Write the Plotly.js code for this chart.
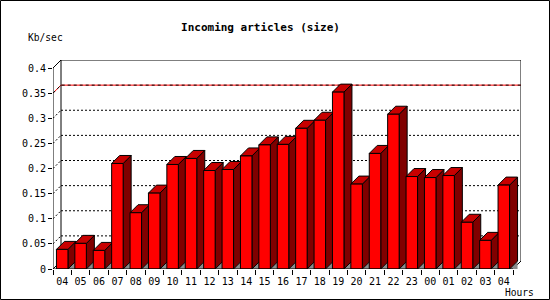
<!DOCTYPE html>
<html><head><meta charset="utf-8">
<script src="https://cdn.plot.ly/plotly-3.0.1.min.js"></script>
<style>html,body{margin:0;padding:0;background:#fff}#chart{width:550px;height:300px}</style>
</head><body><div id="chart"></div>
<script>
// ---- data ----
const hours = ['04','05','06','07','08','09','10','11','12','13','14','15','16','17','18','19','20','21','22','23','00','01','02','03','04'];
const kbPerSec = [0.039,0.051,0.037,0.210,0.112,0.151,0.208,0.220,0.196,0.198,0.225,0.247,0.248,0.280,0.296,0.352,0.169,0.230,0.308,0.184,0.182,0.186,0.093,0.057,0.167];
const yTicks = [0,0.05,0.1,0.15,0.2,0.25,0.3,0.35,0.4];
const yTickText = ['0','0.05','0.1','0.15','0.2','0.25','0.3','0.35','0.4'];
const markLine = 0.35;
const chartTitle = 'Incoming articles (size)';
const yUnit = 'Kb/sec';
const xUnit = 'Hours';

// ---- geometry ----
const W = 550, H = 300, M = {l:53, r:29, t:60, b:31};
const PW = W - M.l - M.r, PH = H - M.t - M.b;
const depth = 8;
const n = hours.length;
const xs = hours.map((_, i) => i);
const xSpan = n * PW / (PW - depth), dx = xSpan - n;
const yMax = yTicks[yTicks.length - 1];
const ySpan = yMax * PH / (PH - depth), dy = ySpan - yMax;
const xr = [-0.5, -0.5 + xSpan], yr = [0, ySpan];
const xL = -0.5, xR = n - 0.5;
const bw = 0.625;
const font = 'DejaVu Sans Mono';

// faces
const topF = {x:[], y:[]}, sideF = {x:[], y:[]}, shadowF = {x:[], y:[]};
xs.forEach((c, i) => {
  const v = kbPerSec[i], x0 = c - bw/2, x1 = c + bw/2;
  topF.x.push(x0, x0+dx, x1+dx, x1, x0, null);  topF.y.push(v, v+dy, v+dy, v, v, null);
  sideF.x.push(x1, x1+dx, x1+dx, x1, x1, null); sideF.y.push(v, v+dy, dy, 0, v, null);
  shadowF.x.push(x1, x1+dx, x1+dx, x1, null);   shadowF.y.push(0, dy, 0, 0, null);
});

// grid on back wall + left wall
const grid = {x:[], y:[]};
yTicks.forEach(v => {
  if (v === 0 || v === yMax || v === markLine) return;
  grid.x.push(xL+dx, xR+dx, null, xL, xL+dx, null);
  grid.y.push(v+dy, v+dy, null, v, v+dy, null);
});
const mark = {x:[xL, xL+dx, xR+dx], y:[markLine, markLine+dy, markLine+dy]};

// walls
const wall = {
  x:[xL, xL+dx, xL+dx, xR+dx, xR+dx, null, xR, xR+dx],
  y:[0, dy, yMax+dy, yMax+dy, dy, null, 0, dy]
};
const front = {
  x:[xL, xL, null, xL, xL+dx, null, xL, xR],
  y:[yMax, 0, null, yMax, yMax+dy, null, 0, 0]
};

const L = (o, extra) => Object.assign({type:'scatter', mode:'lines', hoverinfo:'skip', showlegend:false, xaxis:'x', yaxis:'y'}, o, extra);

const traces = [
  L(grid, {line:{color:'#000', width:1, dash:'2px,2px'}}),
  L(mark, {line:{color:'#ff0000', width:1}}),
  L(mark, {line:{color:'#000', width:1, dash:'3px,3px'}}),
  L(wall, {line:{color:'#000', width:1}}),
  L(shadowF, {fill:'toself', fillcolor:'#8c8c8c', line:{width:0, color:'rgba(0,0,0,0)'}}),
  L(sideF, {fill:'toself', fillcolor:'#800000', line:{color:'#000', width:1}}),
  L(topF, {fill:'toself', fillcolor:'#c80000', line:{color:'#000', width:1}}),
  {type:'bar', x:xs, y:kbPerSec, width:bw, xaxis:'x', yaxis:'y2', hoverinfo:'skip', showlegend:false,
   marker:{color:'#ff0000', line:{color:'#000', width:1}}},
  L(front, {yaxis:'y2', line:{color:'#000', width:1}})
];

const boundaries = xs.map(c => c - 0.5).concat([xR]);
const tickFont = {family:font, size:10, color:'#000'};

const layout = {
  width:W, height:H, margin:M, paper_bgcolor:'#fff', plot_bgcolor:'rgba(0,0,0,0)',
  showlegend:false, bargap:0,
  title:{text:'<b>'+chartTitle+'</b>', font:{family:font, size:11, color:'#000'},
         xref:'container', yref:'container', x:260.5/W, xanchor:'center', y:1-27/H, yanchor:'middle'},
  xaxis:{range:xr, tickmode:'array', tickvals:xs, ticktext:hours, ticks:'outside', ticklen:3,
         tickcolor:'rgba(0,0,0,0)', showgrid:false, zeroline:false,
         showline:false, tickfont:tickFont, fixedrange:true,
         minor:{tickmode:'array', tickvals:boundaries, ticks:'outside', ticklen:5, tickcolor:'#000', tickwidth:1, showgrid:false}},
  yaxis:{range:yr, tickmode:'array', tickvals:yTicks, ticktext:yTickText, ticks:'outside', ticklen:4,
         tickcolor:'#000', tickwidth:1, showgrid:false, zeroline:false, showline:false, tickfont:tickFont, fixedrange:true},
  yaxis2:{range:yr, overlaying:'y', visible:false, fixedrange:true},
  annotations:[
    {text:yUnit, xref:'paper', yref:'paper', x:(45-M.l)/PW, y:(H-M.b-37)/PH, showarrow:false,
     xanchor:'center', yanchor:'middle', font:{family:font, size:9.6, color:'#000'}},
    {text:xUnit, xref:'paper', yref:'paper', x:(519-M.l)/PW, y:(H-M.b-292)/PH, showarrow:false,
     xanchor:'center', yanchor:'middle', font:{family:font, size:9.6, color:'#000'}}
  ],
  shapes:[
    {type:'rect', xref:'paper', yref:'paper', x0:(0.5-M.l)/PW, x1:(W-0.5-M.l)/PW,
     y0:(H-M.b-(H-0.5))/PH, y1:(H-M.b-0.5)/PH, line:{color:'#000', width:1}, layer:'above'}
  ]
};

Plotly.newPlot('chart', traces, layout, {staticPlot:true, displayModeBar:false});
</script></body></html>
